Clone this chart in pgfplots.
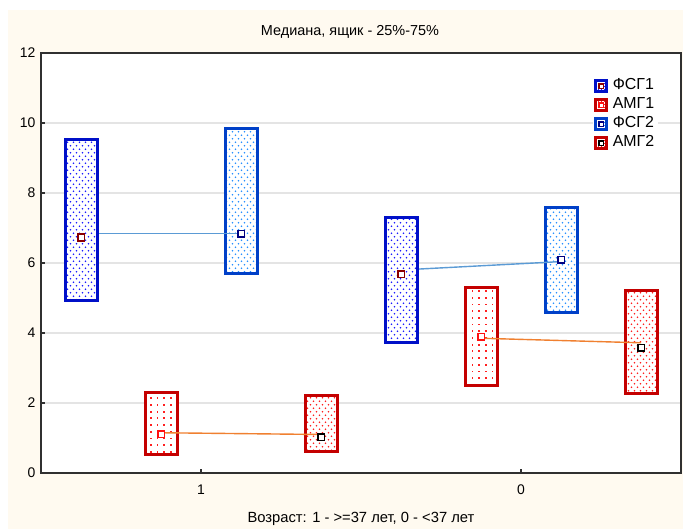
\documentclass[border=0pt]{standalone}
\usepackage{fontspec}
\setmainfont{Liberation Sans}
\usepackage{pgfplots}
\pgfplotsset{compat=1.18}
\usetikzlibrary{patterns}

\definecolor{cream}{HTML}{FFFAF0}
\definecolor{gridc}{HTML}{E4E4E4}
\definecolor{axc}{HTML}{303030}
\definecolor{fsgOneB}{HTML}{0010C8}
\definecolor{fsgOneD}{HTML}{1C1CFF}
\definecolor{fsgTwoB}{HTML}{0040C8}
\definecolor{fsgTwoD}{HTML}{2890FF}
\definecolor{amgB}{HTML}{C40000}
\definecolor{amgD}{HTML}{FF2020}
\definecolor{medOne}{HTML}{8B0000}
\definecolor{medTwo}{HTML}{FF1010}
\definecolor{medThree}{HTML}{000080}
\definecolor{medFour}{HTML}{000000}
\definecolor{lineF}{HTML}{5B9BD5}
\definecolor{lineA}{HTML}{F08030}

\pgfdeclarepatternformonly{stagdots}{\pgfqpoint{-1bp}{-1bp}}{\pgfqpoint{7bp}{8bp}}{\pgfqpoint{6bp}{7bp}}{%
  \pgfpathcircle{\pgfqpoint{1.5bp}{1.75bp}}{0.95bp}%
  \pgfpathcircle{\pgfqpoint{4.5bp}{5.25bp}}{0.95bp}%
  \pgfusepath{fill}}
\pgfdeclarepatternformonly{griddots}{\pgfqpoint{-1bp}{-1bp}}{\pgfqpoint{8bp}{8bp}}{\pgfqpoint{6.7bp}{6.7bp}}{%
  \pgfpathrectangle{\pgfqpoint{2.5bp}{2.5bp}}{\pgfqpoint{1.8bp}{1.8bp}}%
  \pgfusepath{fill}}
\pgfdeclarepatternformonly{smalldots}{\pgfqpoint{-1bp}{-1bp}}{\pgfqpoint{4bp}{4bp}}{\pgfqpoint{3bp}{3bp}}{%
  \pgfpathcircle{\pgfqpoint{1.5bp}{1.5bp}}{0.6bp}%
  \pgfusepath{fill}}

\pgfplotsset{
  bx/.style 2 args={line width=3bp, draw=#1, fill=white, postaction={pattern=stagdots, pattern color=#2}},
  bxg/.style 2 args={line width=3bp, draw=#1, fill=white, postaction={pattern=griddots, pattern color=#2}},
  med/.style={only marks, mark=square*, mark size=3.3bp, mark options={fill=white, draw=#1, line width=1.6bp}},
}

\begin{document}
\begin{tikzpicture}
\path (0,0) rectangle (683bp,529bp);
\fill[cream] (8bp,0) rectangle (683bp,519bp);
\begin{axis}[
  at={(41bp,56bp)}, anchor=south west,
  width=640bp, height=420bp, scale only axis,
  xmin=-0.5, xmax=1.5, ymin=0, ymax=12,
  xtick={0,1}, xticklabels={1,0},
  ytick={0,2,4,6,8,10,12},
  xtick pos=bottom, ytick pos=left,
  tick align=inside, major tick length=4bp,
  tick style={axc, line width=1.2bp},
  axis line style={axc, line width=1.5bp},
  ymajorgrids, grid style={gridc, line width=1.5bp},
  axis background/.style={fill=white},
  font=\fontsize{14}{16}\selectfont,
  /pgf/number format/assume math mode=true,
  xticklabel style={yshift=-8bp},
  yticklabel style={xshift=-2bp},
  legend style={at={(axis cs:1.225,11.36)}, anchor=north west, draw=none, fill=white,
    inner sep=1bp, row sep=0bp,
    nodes={inner sep=3bp, text height=10bp, text depth=3bp},
    font=\fontsize{16}{18}\selectfont},
  legend cell align=left,
]
% --- legend ---
\addlegendimage{legend image code/.code={
  \draw[draw=fsgOneB, line width=2.6bp, fill=white, postaction={pattern=smalldots, pattern color=fsgOneD}] (0bp,-5.5bp) rectangle (11bp,5.5bp);
  \draw[draw=medOne, line width=1.4bp, fill=white] (3.3bp,-2.2bp) rectangle (7.7bp,2.2bp);}}
\addlegendentry{\hspace{2bp}ФСГ1}
\addlegendimage{legend image code/.code={
  \draw[draw=amgB, line width=2.6bp, fill=white, postaction={pattern=smalldots, pattern color=amgD}] (0bp,-5.5bp) rectangle (11bp,5.5bp);
  \draw[draw=medTwo, line width=1.4bp, fill=white] (3.3bp,-2.2bp) rectangle (7.7bp,2.2bp);}}
\addlegendentry{\hspace{2bp}АМГ1}
\addlegendimage{legend image code/.code={
  \draw[draw=fsgTwoB, line width=2.6bp, fill=white, postaction={pattern=smalldots, pattern color=fsgTwoD}] (0bp,-5.5bp) rectangle (11bp,5.5bp);
  \draw[draw=medThree, line width=1.4bp, fill=white] (3.3bp,-2.2bp) rectangle (7.7bp,2.2bp);}}
\addlegendentry{\hspace{2bp}ФСГ2}
\addlegendimage{legend image code/.code={
  \draw[draw=amgB, line width=2.6bp, fill=white, postaction={pattern=smalldots, pattern color=amgD}] (0bp,-5.5bp) rectangle (11bp,5.5bp);
  \draw[draw=medFour, line width=1.4bp, fill=white] (3.3bp,-2.2bp) rectangle (7.7bp,2.2bp);}}
\addlegendentry{\hspace{2bp}АМГ2}

% --- boxes (25%-75%): corners (x +- 0.05, quartiles) ---
% АМГ1
\addplot[forget plot, bxg={amgB}{amgD}] coordinates {(-0.175,0.54) (-0.075,0.54) (-0.075,2.29) (-0.175,2.29)} -- cycle;
\addplot[forget plot, bxg={amgB}{amgD}] coordinates {(0.825,2.49) (0.925,2.49) (0.925,5.29) (0.825,5.29)} -- cycle;
% АМГ2
\addplot[forget plot, bx={amgB}{amgD}] coordinates {(0.325,0.60) (0.425,0.60) (0.425,2.20) (0.325,2.20)} -- cycle;
\addplot[forget plot, bx={amgB}{amgD}] coordinates {(1.325,2.26) (1.425,2.26) (1.425,5.20) (1.325,5.20)} -- cycle;
% ФСГ2
\addplot[forget plot, bx={fsgTwoB}{fsgTwoD}] coordinates {(0.075,5.71) (0.175,5.71) (0.175,9.83) (0.075,9.83)} -- cycle;
\addplot[forget plot, bx={fsgTwoB}{fsgTwoD}] coordinates {(1.075,4.59) (1.175,4.59) (1.175,7.59) (1.075,7.59)} -- cycle;

% --- connecting lines ---
\addplot[forget plot, lineF, line width=1.4bp] coordinates {(-0.375,6.85) (0.125,6.85)};
\addplot[forget plot, lineF, line width=1.4bp] coordinates {(0.625,5.80) (1.125,6.04)};
\addplot[forget plot, lineA, line width=1.4bp] coordinates {(-0.125,1.15) (0.375,1.10)};
\addplot[forget plot, lineA, line width=1.4bp] coordinates {(0.875,3.85) (1.375,3.72)};

% ФСГ1
\addplot[forget plot, bx={fsgOneB}{fsgOneD}] coordinates {(-0.425,4.92) (-0.325,4.92) (-0.325,9.53) (-0.425,9.53)} -- cycle;
\addplot[forget plot, bx={fsgOneB}{fsgOneD}] coordinates {(0.575,3.73) (0.675,3.73) (0.675,7.31) (0.575,7.31)} -- cycle;

% --- medians ---
\addplot[forget plot, med=medOne] coordinates {(-0.375,6.73) (0.625,5.68)};
\addplot[forget plot, med=medTwo] coordinates {(-0.125,1.11) (0.875,3.89)};
\addplot[forget plot, med=medThree] coordinates {(0.125,6.83) (1.125,6.09)};
\addplot[forget plot, med=medFour] coordinates {(0.375,1.02) (1.375,3.58)};
\end{axis}
\node[font=\fontsize{14.5}{16}\selectfont] at (350bp,497bp) {Медиана, ящик - 25\%-75\%};
\node[font=\fontsize{14.8}{16}\selectfont] at (361bp,10bp) {Возраст: 1 - >=37 лет, 0 - <37 лет};
\end{tikzpicture}
\end{document}
